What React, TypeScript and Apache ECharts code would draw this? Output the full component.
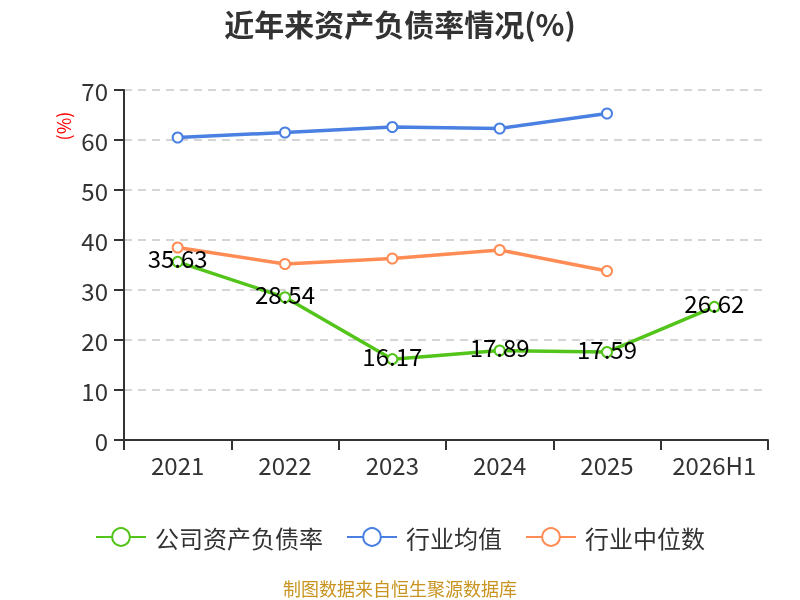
import React, { useEffect, useRef } from "react";
import * as echarts from "echarts";

const categories = ["2021", "2022", "2023", "2024", "2025", "2026H1"];
const companyRatio = [35.63, 28.54, 16.17, 17.89, 17.59, 26.62];
const industryAvg = [60.5, 61.5, 62.6, 62.3, 65.3, null];
const industryMedian = [38.5, 35.2, 36.3, 38.0, 33.8, null];
const yTicks = { min: 0, max: 70, interval: 10 };

const FONT = '"Microsoft YaHei", "Noto Sans CJK SC", "Noto Sans", sans-serif';

export default function App() {
  const ref = useRef<HTMLDivElement>(null);
  useEffect(() => {
    if (!ref.current) return;
    const chart = echarts.init(ref.current, null, { renderer: "svg" });
    chart.setOption({
      animation: false,
      textStyle: { fontFamily: FONT },
      title: {
        text: "近年来资产负债率情况(%)",
        left: "center",
        top: 3,
        textStyle: { fontSize: 30, fontWeight: "bold", color: "#333", fontFamily: FONT },
      },
      grid: { left: 124, right: 32, top: 90, bottom: 160, containLabel: false },
      legend: {
        bottom: 46,
        left: "center",
        itemWidth: 50,
        itemHeight: 22,
        itemGap: 23,
        textStyle: { fontSize: 24, color: "#333", fontFamily: FONT, padding: [0, 0, 0, 4] },
        data: ["公司资产负债率", "行业均值", "行业中位数"],
      },
      graphic: [
        {
          type: "text",
          x: 63,
          y: 126,
          rotation: Math.PI / 2,
          style: {
            text: "(%)",
            fill: "#ff0000",
            font: `18px ${FONT}`,
            align: "center",
            verticalAlign: "middle",
          },
        },
        {
          type: "text",
          x: 400,
          y: 588,
          style: {
            text: "制图数据来自恒生聚源数据库",
            fill: "#c8941f",
            font: `18px ${FONT}`,
            align: "center",
            verticalAlign: "middle",
          },
        },
      ],
      xAxis: {
        type: "category",
        data: categories,
        boundaryGap: true,
        axisLine: { lineStyle: { color: "#333", width: 2 } },
        axisTick: { show: true, interval: 0, length: 10, lineStyle: { color: "#333", width: 2 } },
        axisLabel: { interval: 0, fontSize: 24, color: "#333", margin: 12, fontFamily: FONT },
      },
      yAxis: {
        type: "value",
        min: yTicks.min,
        max: yTicks.max,
        interval: yTicks.interval,
        axisLine: { show: true, lineStyle: { color: "#333", width: 2 } },
        axisTick: { show: true, length: 10, lineStyle: { color: "#333", width: 2 } },
        axisLabel: { fontSize: 24, color: "#333", margin: 16, fontFamily: FONT },
        splitLine: { lineStyle: { color: "#c8c8c8", type: [8, 6], width: 1.5 } },
      },
      series: [
        {
          name: "公司资产负债率",
          type: "line",
          data: companyRatio,
          symbol: "emptyCircle",
          symbolSize: 10,
          itemStyle: { color: "#52c41a" },
          lineStyle: { width: 3.5, color: "#52c41a" },
          label: {
            show: true,
            position: "inside",
            offset: [0, -4],
            fontSize: 24,
            color: "#000",
            fontFamily: FONT,
          },
          z: 3,
        },
        {
          name: "行业均值",
          type: "line",
          data: industryAvg,
          symbol: "emptyCircle",
          symbolSize: 10,
          itemStyle: { color: "#4a80e2" },
          lineStyle: { width: 3.5, color: "#4a80e2" },
          z: 2,
        },
        {
          name: "行业中位数",
          type: "line",
          data: industryMedian,
          symbol: "emptyCircle",
          symbolSize: 10,
          itemStyle: { color: "#ff8c55" },
          lineStyle: { width: 3.5, color: "#ff8c55" },
          z: 2,
        },
      ],
    });
    return () => chart.dispose();
  }, []);
  return (
    <div
      ref={ref}
      style={{ position: "fixed", left: 0, top: 0, width: 800, height: 600 }}
    />
  );
}
